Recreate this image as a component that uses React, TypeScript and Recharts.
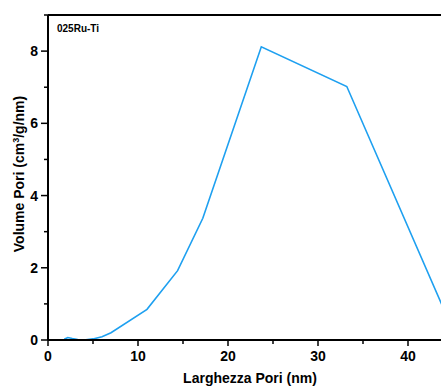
import { LineChart, Line, XAxis, YAxis, ReferenceLine } from 'recharts'

// pore width (nm) and pore volume (cm3/g/nm)
const poreWidth = [1.8, 2.2, 2.7, 3.3, 4, 5, 6, 7, 11, 14.4, 17.2, 23.7, 33.2, 45]
const poreVolume = [0.02, 0.07, 0.04, 0.01, 0.0, 0.03, 0.09, 0.2, 0.85, 1.92, 3.37, 8.12, 7.02, 0.27]

const xTicks = [0, 5, 10, 15, 20, 25, 30, 35, 40, 45]
const yTicks = [0, 1, 2, 3, 4, 5, 6, 7, 8, 9]
const sampleName = '025Ru-Ti'

const data = poreWidth.map((w, i) => ({ w, v: poreVolume[i] }))

const FONT = '"Liberation Sans", Arial, sans-serif'

const XTick = (props: any) => {
    const { x, y, payload } = props
    const major = payload.value % 10 === 0
    return (
        <g>
            <line x1={x} x2={x} y1={y} y2={y + (major ? 6 : 4)} stroke="#000" strokeWidth={1.5} />
            {major && (
                <text x={x} y={y + 21} textAnchor="middle" fontFamily={FONT} fontWeight="bold" fontSize={14} fill="#000">
                    {payload.value}
                </text>
            )}
        </g>
    )
}

const YTick = (props: any) => {
    const { x, y, payload } = props
    const major = payload.value % 2 === 0 && payload.value !== 9
    return (
        <g>
            <line x1={x} x2={x - (major ? 7 : 4)} y1={y} y2={y} stroke="#000" strokeWidth={1.5} />
            {major && (
                <text x={x - 10} y={y + 5} textAnchor="end" fontFamily={FONT} fontWeight="bold" fontSize={14} fill="#000">
                    {payload.value}
                </text>
            )}
        </g>
    )
}

export default function App() {
    return (
        <div style={{ position: 'absolute', left: 0, top: 0, width: 441, height: 387, overflow: 'hidden', background: '#fff' }}>
            <LineChart
                width={470}
                height={387}
                data={data}
                margin={{ top: 15, right: 17, left: 0, bottom: 0 }}
            >
                <XAxis
                    type="number"
                    dataKey="w"
                    domain={[0, 45]}
                    ticks={xTicks}
                    interval={0}
                    height={47}
                    tickSize={0}
                    tickMargin={0}
                    tickLine={false}
                    axisLine={{ stroke: '#000', strokeWidth: 2 }}
                    tick={<XTick />}
                />
                <YAxis
                    type="number"
                    domain={[0, 9]}
                    ticks={yTicks}
                    interval={0}
                    width={48}
                    tickSize={0}
                    tickMargin={0}
                    tickLine={false}
                    axisLine={{ stroke: '#000', strokeWidth: 2 }}
                    tick={<YTick />}
                />
                <ReferenceLine y={9} stroke="#000" strokeWidth={2} ifOverflow="visible" />
                <ReferenceLine x={45} stroke="#000" strokeWidth={2} ifOverflow="visible" />
                <Line
                    type="linear"
                    dataKey="v"
                    stroke="#1ea0f0"
                    strokeWidth={1.6}
                    dot={false}
                    isAnimationActive={false}
                />
                <text x={57} y={32} fontFamily={FONT} fontWeight="bold" fontSize={10} fill="#000">
                    {sampleName}
                </text>
                <text
                    transform="translate(24, 174) rotate(-90)"
                    textAnchor="middle"
                    fontFamily={FONT}
                    fontWeight="bold"
                    fontSize={14}
                    fill="#000"
                >
                    Volume Pori (cm<tspan dy={-5} fontSize={9}>3</tspan><tspan dy={5}>/g/nm)</tspan>
                </text>
                <text x={250} y={383} textAnchor="middle" fontFamily={FONT} fontWeight="bold" fontSize={14} fill="#000">
                    Larghezza Pori (nm)
                </text>
            </LineChart>
        </div>
    )
}
